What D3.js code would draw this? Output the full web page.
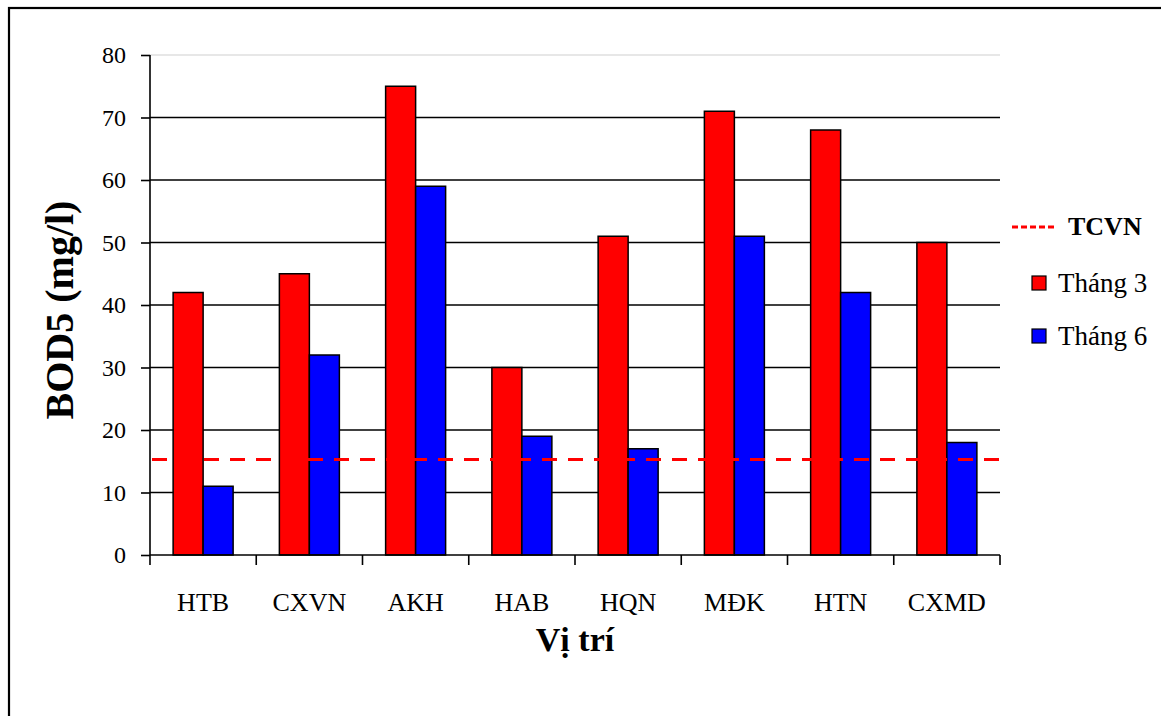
<!DOCTYPE html>
<html>
<head>
<meta charset="utf-8">
<script src="https://cdn.jsdelivr.net/npm/d3@7/dist/d3.min.js"></script>
<style>
  html, body { margin: 0; padding: 0; background: #fff; }
  svg text { font-family: "Liberation Serif", "Times New Roman", Times, "DejaVu Serif", serif !important; fill: #000; }
</style>
</head>
<body>
<svg id="chart" width="1161" height="716"></svg>
<script>
// BOD5 concentrations at each sampling site, March and June
const sites = ["HTB", "CXVN", "AKH", "HAB", "HQN", "MĐK", "HTN", "CXMD"];
const seriesNames = ["Tháng 3", "Tháng 6"];
const thang3 = [42, 45, 75, 30, 51, 71, 68, 50];
const thang6 = [11, 32, 59, 19, 17, 51, 42, 18];
const seriesColors = ["#ff0000", "#0000ff"];
const yTicks = [0, 10, 20, 30, 40, 50, 60, 70, 80];
const tcvnLimit = 15.3;
const tcvnLabel = "TCVN";

const rows = sites.map((s, i) => ({ site: s, values: [thang3[i], thang6[i]] }));

const svg = d3.select("#chart");
const plot = { left: 150, right: 1000, top: 55, bottom: 555 };

// outer chart frame
svg.append("rect")
  .attr("x", 9).attr("y", 8)
  .attr("width", 1170).attr("height", 720)
  .attr("fill", "none").attr("stroke", "#000").attr("stroke-width", 2.2);

const x = d3.scaleBand()
  .domain(sites)
  .range([plot.left, plot.right])
  .paddingInner(0.4353)
  .paddingOuter(0.2176);

const xs = d3.scaleBand()
  .domain(d3.range(seriesNames.length))
  .range([0, x.bandwidth()]);

const y = d3.scaleLinear().domain([0, 80]).range([plot.bottom, plot.top]);

// plot area top edge
svg.append("line")
  .attr("x1", plot.left).attr("x2", plot.right)
  .attr("y1", y(80)).attr("y2", y(80))
  .attr("stroke", "#cfcfcf").attr("stroke-width", 1.2);

// horizontal gridlines
svg.append("g")
  .selectAll("line")
  .data(yTicks.filter(t => t > 0 && t < 80))
  .join("line")
  .attr("x1", plot.left).attr("x2", plot.right)
  .attr("y1", d => y(d)).attr("y2", d => y(d))
  .attr("stroke", "#000").attr("stroke-width", 1.6);

// bars
const groups = svg.append("g")
  .selectAll("g")
  .data(rows)
  .join("g")
  .attr("transform", d => `translate(${x(d.site)},0)`);

groups.selectAll("rect")
  .data(d => d.values.map((v, i) => ({ v, i })))
  .join("rect")
  .attr("x", d => xs(d.i))
  .attr("width", xs.bandwidth())
  .attr("y", d => y(d.v))
  .attr("height", d => y(0) - y(d.v))
  .attr("fill", d => seriesColors[d.i])
  .attr("stroke", "#000")
  .attr("stroke-width", 1.5);

// Y axis
const yAxis = d3.axisLeft(y).tickValues(yTicks).tickSize(9).tickPadding(15);
const gy = svg.append("g")
  .attr("transform", `translate(${plot.left},0)`)
  .call(yAxis);
gy.select(".domain").attr("stroke", "#000").attr("stroke-width", 1.6).attr("d", `M0,${plot.top}V${plot.bottom}`);
gy.selectAll(".tick line").attr("stroke", "#000").attr("stroke-width", 1.6);
gy.selectAll(".tick text").attr("font-size", 24);

// X axis: ticks on category boundaries
const gx = svg.append("g");
gx.append("line")
  .attr("x1", plot.left).attr("x2", plot.right)
  .attr("y1", plot.bottom).attr("y2", plot.bottom)
  .attr("stroke", "#000").attr("stroke-width", 1.6);
const edges = sites.map(s => x(s) + x.bandwidth() / 2 - x.step() / 2)
  .concat([x(sites[sites.length - 1]) + x.bandwidth() / 2 + x.step() / 2]);
gx.selectAll("line.tick")
  .data(edges)
  .join("line")
  .attr("class", "tick")
  .attr("x1", d => d).attr("x2", d => d)
  .attr("y1", plot.bottom).attr("y2", plot.bottom + 10)
  .attr("stroke", "#000").attr("stroke-width", 1.6);
gx.selectAll("text")
  .data(sites)
  .join("text")
  .attr("x", d => x(d) + x.bandwidth() / 2)
  .attr("y", 611)
  .attr("text-anchor", "middle")
  .attr("font-size", 26)
  .text(d => d);

// TCVN limit line
svg.append("line")
  .attr("x1", plot.left + 2).attr("x2", plot.right + 3)
  .attr("y1", y(tcvnLimit)).attr("y2", y(tcvnLimit))
  .attr("stroke", "#ff0000").attr("stroke-width", 3)
  .attr("stroke-dasharray", "15,11");

// axis titles
svg.append("text")
  .attr("transform", `translate(73,${(plot.top + plot.bottom) / 2 + 5}) rotate(-90)`)
  .attr("text-anchor", "middle")
  .attr("font-weight", "bold")
  .attr("font-size", 40)
  .text("BOD5 (mg/l)");

svg.append("text")
  .attr("x", (plot.left + plot.right) / 2)
  .attr("y", 651)
  .attr("text-anchor", "middle")
  .attr("font-weight", "bold")
  .attr("font-size", 34)
  .text("Vị trí");

// legend
const legend = svg.append("g");
legend.append("line")
  .attr("x1", 1012).attr("x2", 1056)
  .attr("y1", 227).attr("y2", 227)
  .attr("stroke", "#ff0000").attr("stroke-width", 3)
  .attr("stroke-dasharray", "6,3");
legend.append("text")
  .attr("x", 1068).attr("y", 235)
  .attr("font-weight", "bold")
  .attr("font-size", 26)
  .text(tcvnLabel);

const legendRows = [283, 336];
seriesNames.forEach((name, i) => {
  legend.append("rect")
    .attr("x", 1032).attr("y", legendRows[i] - 7)
    .attr("width", 14).attr("height", 14)
    .attr("fill", seriesColors[i])
    .attr("stroke", "#000").attr("stroke-width", 1.2);
  legend.append("text")
    .attr("x", 1058).attr("y", legendRows[i] + 9)
    .attr("font-size", 27)
    .text(name);
});
</script>
</body>
</html>
